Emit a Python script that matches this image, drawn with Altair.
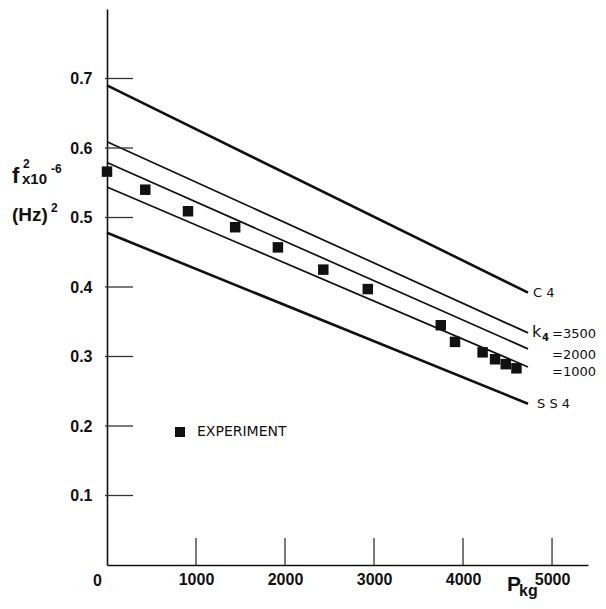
import altair as alt
import pandas as pd

# ---------------- data ----------------
exp_p = [0, 430, 910, 1440, 1920, 2430, 2930, 3750, 3910, 4220, 4360, 4480, 4600]
exp_f2 = [0.566, 0.540, 0.509, 0.486, 0.457, 0.425, 0.397, 0.345, 0.321, 0.306, 0.296, 0.289, 0.283]
legend_label = "EXPERIMENT"

line_names = ["C4", "K3500", "K2000", "K1000", "SS4"]
line_labels = ["C 4", "=3500", "=2000", "=1000", "S S 4"]
line_f2_start = [0.690, 0.609, 0.579, 0.544, 0.478]
line_f2_end = [0.392, 0.334, 0.311, 0.285, 0.232]
line_p_start = [0, 0, 0, 0, 0]
line_p_end = [4730, 4730, 4730, 4730, 4730]

x_tick_values = [1000, 2000, 3000, 4000, 5000]
y_tick_values = [0.1, 0.2, 0.3, 0.4, 0.5, 0.6, 0.7]

# ---------------- style ----------------
W, H = 481, 556
XMAX, YMAX = 5404, 0.8
INK = "#111111"
FB = "Liberation Sans"
FL = "DejaVu Sans"

xs = alt.Scale(domain=[0, XMAX], nice=False, zero=False)
ys = alt.Scale(domain=[0, YMAX], nice=False, zero=False)

exp_df = pd.DataFrame({"P": exp_p, "F": exp_f2, "series": [legend_label] * len(exp_p)})
lines_df = pd.DataFrame({
    "name": line_names, "label": line_labels,
    "P0": line_p_start, "P1": line_p_end,
    "F0": line_f2_start, "F1": line_f2_end,
})
xt_df = pd.DataFrame({"P": x_tick_values})
yt_df = pd.DataFrame({"F": y_tick_values})
zero_df = pd.DataFrame({"P": [0], "F": [0], "t": ["0"]})

points = alt.Chart(exp_df).mark_square(size=110, opacity=1).encode(
    x=alt.X("P:Q", scale=xs, title=None,
            axis=alt.Axis(values=x_tick_values, ticks=False, grid=False, format="d",
                          domainColor=INK, domainWidth=1.6, labelFont=FB, labelFontWeight="bold",
                          labelFontSize=16, labelColor=INK, labelPadding=6, labelBaseline="top")),
    y=alt.Y("F:Q", scale=ys, title=None,
            axis=alt.Axis(values=y_tick_values, ticks=False, grid=False, format=".1f",
                          domainColor=INK, domainWidth=1.6, labelFont=FB, labelFontWeight="bold",
                          labelFontSize=16, labelColor=INK, labelPadding=15)),
    color=alt.Color("series:N", scale=alt.Scale(range=[INK]),
                    legend=alt.Legend(title=None, orient="none", legendX=66, legendY=416,
                                      symbolType="square", symbolSize=100, symbolStrokeWidth=0,
                                      labelFont=FL, labelFontSize=14, labelColor=INK,
                                      labelOffset=10, padding=0)),
)

thick = alt.Chart(lines_df).transform_filter(
    alt.FieldOneOfPredicate(field="name", oneOf=["C4", "SS4"])
).mark_rule(strokeWidth=2.6, color=INK).encode(
    x=alt.X("P0:Q", scale=xs, title=None), x2="P1",
    y=alt.Y("F0:Q", scale=ys, title=None), y2="F1")

thin = alt.Chart(lines_df).transform_filter(
    alt.FieldOneOfPredicate(field="name", oneOf=["K3500", "K2000", "K1000"])
).mark_rule(strokeWidth=1.7, color=INK).encode(
    x=alt.X("P0:Q", scale=xs, title=None), x2="P1",
    y=alt.Y("F0:Q", scale=ys, title=None), y2="F1")

xticks = alt.Chart(xt_df).mark_rule(color="#333333", strokeWidth=1.3).encode(
    x=alt.X("P:Q", scale=xs, title=None), y=alt.value(H), y2=alt.value(H - 27))
yticks = alt.Chart(yt_df).mark_rule(color="#333333", strokeWidth=1.3).encode(
    y=alt.Y("F:Q", scale=ys, title=None), x=alt.value(-2), x2=alt.value(26))

zero_lbl = alt.Chart(zero_df).mark_text(font=FB, fontWeight="bold", fontSize=16, color=INK,
                                        align="right", baseline="top", dx=-5, dy=8).encode(
    x=alt.X("P:Q", scale=xs, title=None), y=alt.Y("F:Q", scale=ys, title=None), text="t:N")

label_styles = {
    "C4": dict(dx=5, dy=0, align="left"),
    "K3500": dict(dx=68, dy=1, align="right"),
    "K2000": dict(dx=68, dy=6, align="right"),
    "K1000": dict(dx=68, dy=5, align="right"),
    "SS4": dict(dx=9, dy=0, align="left"),
}
label_layers = []
for nm, st in label_styles.items():
    label_layers.append(
        alt.Chart(lines_df).transform_filter(alt.datum.name == nm).mark_text(
            font=FL, fontSize=13, color=INK, baseline="middle", **st).encode(
            x=alt.X("P1:Q", scale=xs, title=None), y=alt.Y("F1:Q", scale=ys, title=None),
            text="label:N"))

k_df = lines_df[lines_df["name"] == "K3500"]
k_main = alt.Chart(k_df).mark_text(font=FL, fontSize=16, color=INK, align="left",
                                   baseline="middle", dx=4, dy=-1, text="k").encode(
    x=alt.X("P1:Q", scale=xs, title=None), y=alt.Y("F1:Q", scale=ys, title=None))
k_sub = alt.Chart(k_df).mark_text(font=FL, fontSize=10, fontWeight="bold", color=INK, align="left",
                                  baseline="middle", dx=14, dy=5, text="4").encode(
    x=alt.X("P1:Q", scale=xs, title=None), y=alt.Y("F1:Q", scale=ys, title=None))


def txt(t, x, y, size, base="alphabetic"):
    return alt.Chart(pd.DataFrame({"t": [t]})).mark_text(
        font=FB, fontWeight="bold", fontSize=size, color=INK, align="left", baseline=base
    ).encode(x=alt.value(x), y=alt.value(y), text="t:N")


titles = [
    txt("f", -95, 174, 22),
    txt("2", -84, 159, 12),
    txt("x10", -85, 175, 15),
    txt("-6", -56, 164, 12),
    txt("(Hz)", -95, 212, 19),
    txt("2", -56, 203, 12),
    txt("P", 400, 582, 21),
    txt("kg", 412, 587, 16),
]

chart = alt.layer(
    thick, thin, xticks, yticks, points, zero_lbl, k_main, k_sub, *label_layers, *titles
).properties(
    width=W, height=H,
    autosize=alt.AutoSizeParams(type="none"),
    padding={"left": 99, "top": 1, "right": 10, "bottom": 36},
    background="white",
).configure_view(stroke=None)

chart.save("out.html", embed_options={"renderer": "svg", "actions": False})
